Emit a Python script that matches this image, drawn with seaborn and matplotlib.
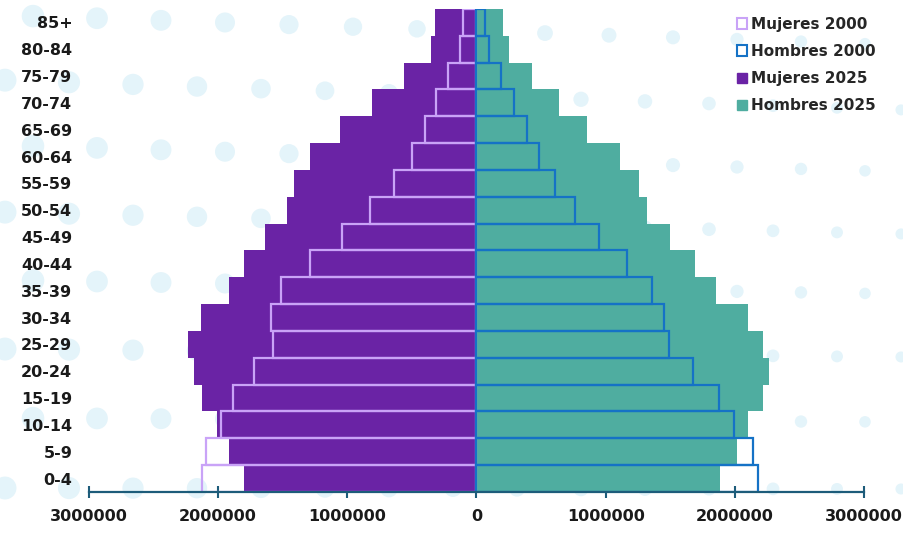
import numpy as np
import matplotlib
matplotlib.use("Agg")
import matplotlib.pyplot as plt
from matplotlib.patches import Patch
from matplotlib.ticker import FuncFormatter
import seaborn as sns

# grupos de edad, de arriba hacia abajo
ages = ["85+", "80-84", "75-79", "70-74", "65-69", "60-64", "55-59", "50-54", "45-49",
        "40-44", "35-39", "30-34", "25-29", "20-24", "15-19", "10-14", "5-9", "0-4"]

mujeres_2000 = [106000, 131000, 222000, 312000, 400000, 497000, 640000, 828000, 1039000,
                1286000, 1510000, 1588000, 1575000, 1725000, 1885000, 1975000, 2096000, 2124000]
hombres_2000 = [62000, 100000, 186000, 289000, 389000, 482000, 611000, 766000, 951000,
                1162000, 1359000, 1454000, 1493000, 1676000, 1874000, 1990000, 2142000, 2176000]
mujeres_2025 = [325000, 350000, 562000, 807000, 1060000, 1286000, 1410000, 1467000, 1634000,
                1800000, 1918000, 2135000, 2233000, 2189000, 2127000, 2008000, 1918000, 1800000]
hombres_2025 = [209000, 255000, 428000, 642000, 856000, 1111000, 1255000, 1320000, 1498000,
                1688000, 1854000, 2104000, 2220000, 2266000, 2220000, 2104000, 2013000, 1885000]

xticks = [-3000000, -2000000, -1000000, 0, 1000000, 2000000, 3000000]

PURPLE = "#6a23a5"
TEAL = "#4fada0"
LAVENDER = "#c9a3f7"
BLUE = "#1572c6"
AXIS = "#1d5c7a"
DOT = "#e4f4fa"

sns.set_style("white")
plt.rcParams["font.family"] = ["DejaVu Sans"]
plt.rcParams["font.weight"] = "bold"

fig = plt.figure(figsize=(9.04, 5.36), dpi=100)

# fondo decorativo de puntos
bg = fig.add_axes([0, 0, 1, 1], zorder=0)
bg.set_xlim(0, 904)
bg.set_ylim(536, 0)
bg.axis("off")
row_left = [15, 80, 145, 212, 280, 349, 418, 488]
row_right = [45, 110, 172, 234, 294, 357, 422, 489]
for k, (yl, yr) in enumerate(zip(row_left, row_right)):
    xs = np.arange(33 - 28 * (k % 2), 910, 64)
    ys = yl + (yr - yl) * xs / 904
    d = 23 - 12 * xs / 904
    bg.scatter(xs, ys, s=(d * 0.72) ** 2, color=DOT, linewidths=0)

ax = fig.add_axes([89 / 904, 1 - 492 / 536, (864 - 89) / 904, (492 - 9) / 536], zorder=1)
ax.patch.set_alpha(0)

sns.barplot(x=-np.array(mujeres_2025), y=ages, order=ages, orient="y", color=PURPLE,
            saturation=1, width=1, linewidth=0, ax=ax, zorder=2)
sns.barplot(x=np.array(hombres_2025), y=ages, order=ages, orient="y", color=TEAL,
            saturation=1, width=1, linewidth=0, ax=ax, zorder=2)
sns.barplot(x=-np.array(mujeres_2000), y=ages, order=ages, orient="y", color=LAVENDER,
            saturation=1, width=1, fill=False, linewidth=1.6, ax=ax, zorder=3)
sns.barplot(x=np.array(hombres_2000), y=ages, order=ages, orient="y", color=BLUE,
            saturation=1, width=1, fill=False, linewidth=1.6, ax=ax, zorder=3)

ax.set_xlim(-3000000, 3000000)
ax.set_ylim(len(ages) - 0.5, -0.5)
ax.set_xlabel("")
ax.set_ylabel("")
ax.set_xticks(xticks)
ax.xaxis.set_major_formatter(FuncFormatter(lambda v, p: f"{abs(int(round(v)))}"))

for s in ["top", "right", "left"]:
    ax.spines[s].set_visible(False)
ax.spines["bottom"].set_color(AXIS)
ax.spines["bottom"].set_linewidth(1.6)
ax.spines["bottom"].set_zorder(4)
ax.tick_params(axis="x", bottom=True, direction="inout", length=9, width=1.5, color=AXIS,
               pad=8, labelsize=11.5, labelcolor="#1a1a1a")
ax.tick_params(axis="y", left=False, length=0, pad=12, labelsize=11.5, labelcolor="#1a1a1a")
for lab in ax.get_xticklabels() + ax.get_yticklabels():
    lab.set_fontweight("bold")

handles = [
    Patch(facecolor="white", edgecolor=LAVENDER, linewidth=1.5, label="Mujeres 2000"),
    Patch(facecolor="white", edgecolor=BLUE, linewidth=1.5, label="Hombres 2000"),
    Patch(facecolor=PURPLE, edgecolor=PURPLE, label="Mujeres 2025"),
    Patch(facecolor=TEAL, edgecolor=TEAL, label="Hombres 2025"),
]
fig.legend(handles=handles, loc="upper left", bbox_to_anchor=(723 / 904, 1 - 3 / 536),
           frameon=False, handlelength=0.7, handleheight=0.7, handletextpad=0.25,
           labelspacing=0.8, prop={"size": 11, "weight": "bold"})

fig.savefig("out.png", dpi=100)
plt.close(fig)
